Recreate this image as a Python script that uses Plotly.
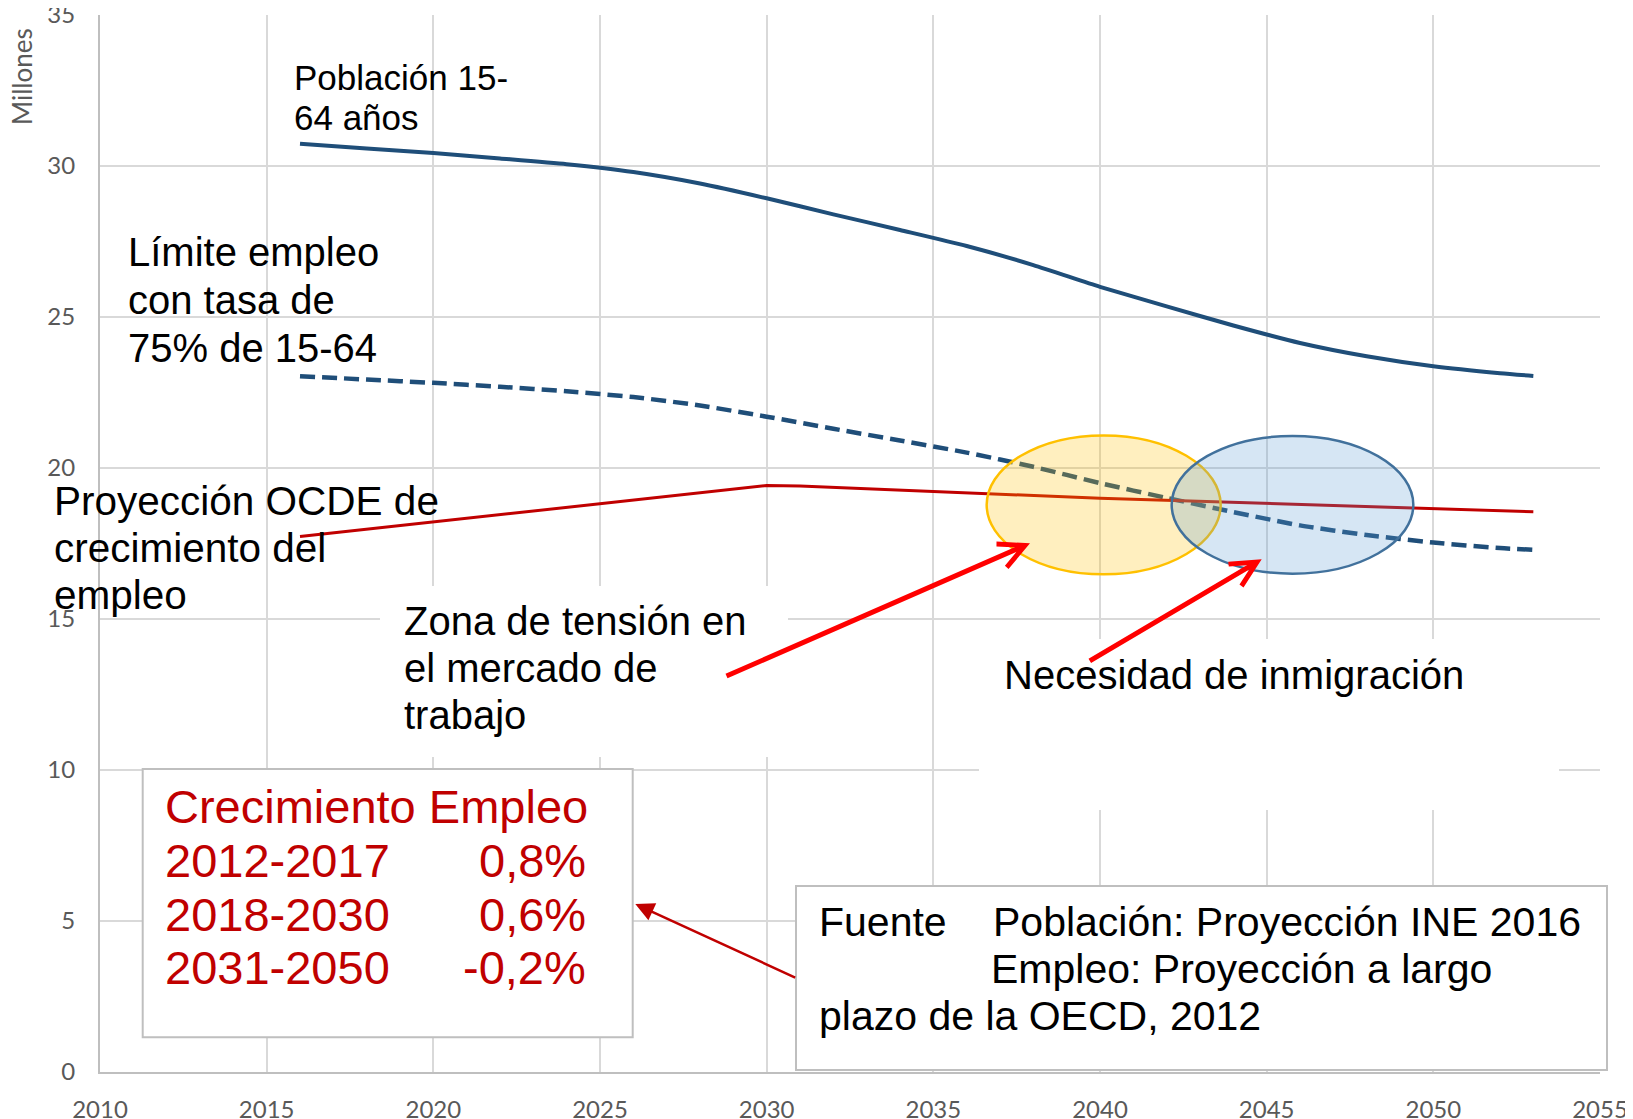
import plotly.graph_objects as go

# ---------------- data ----------------
years_pop = [2016, 2018, 2020, 2022, 2024, 2026, 2028, 2030, 2032, 2034,
             2036, 2038, 2040, 2042, 2044, 2046, 2048, 2050, 2052, 2053]
poblacion_15_64 = [30.74, 30.58, 30.43, 30.25, 30.06, 29.80, 29.42, 28.93, 28.40, 27.88,
                   27.35, 26.72, 26.00, 25.35, 24.72, 24.14, 23.70, 23.37, 23.14, 23.05]
limite_empleo_75 = [23.04, 22.93, 22.82, 22.69, 22.54, 22.35, 22.07, 21.70, 21.30, 20.91,
                    20.51, 20.04, 19.50, 19.01, 18.54, 18.10, 17.78, 17.53, 17.35, 17.29]

years_ocde = [2016, 2030, 2031, 2040, 2053]
empleo_ocde = [17.73, 19.42, 19.40, 19.00, 18.55]

x_ticks = [2010, 2015, 2020, 2025, 2030, 2035, 2040, 2045, 2050, 2055]
y_ticks = [0, 5, 10, 15, 20, 25, 30, 35]

growth_title = "Crecimiento Empleo"
growth_periods = ["2012-2017", "2018-2030", "2031-2050"]
growth_rates = ["0,8%", "0,6%", "-0,2%"]

# zones (ellipses) in data units
zona_tension = dict(x0=2036.60, x1=2043.62, y0=16.48, y1=21.08)
zona_inmigracion = dict(x0=2042.15, x1=2049.40, y0=16.50, y1=21.06)

# ---------------- layout geometry ----------------
# the page body has an 8px margin, so the figure is 8px smaller and shifted
W, H = 1625, 1111
L, R, T, B = 92, 33, 7, 47
PW, PH = W - L - R, H - T - B   # 1500 x 1057


def px(x):  # page x pixel -> paper fraction
    return (x - 100) / PW


def py(y):  # page y pixel -> paper fraction
    return (1072 - y) / PH


BLUE = "#1F4E79"
DRED = "#C00000"
RED = "#FF0000"
TXT = "Liberation Sans, Arial, sans-serif"
TICKF = "Lato, Open Sans, sans-serif"

fig = go.Figure()
fig.add_trace(go.Scatter(x=years_pop, y=poblacion_15_64, mode="lines",
                         line=dict(color=BLUE, width=4, shape="spline", smoothing=0.6),
                         hoverinfo="skip"))
fig.add_trace(go.Scatter(x=years_pop, y=limite_empleo_75, mode="lines",
                         line=dict(color=BLUE, width=4.5, dash="15px,7px", shape="spline", smoothing=0.6),
                         hoverinfo="skip"))
fig.add_trace(go.Scatter(x=years_ocde, y=empleo_ocde, mode="lines",
                         line=dict(color=DRED, width=3),
                         hoverinfo="skip"))

shapes = []
# white label boxes covering the grid
for (x0, y0, x1, y1) in [(380, 586, 788, 757), (979, 639, 1559, 810)]:
    shapes.append(dict(type="rect", xref="paper", yref="paper",
                       x0=px(x0), x1=px(x1), y0=py(y1), y1=py(y0),
                       fillcolor="white", line=dict(width=0), layer="above"))
# boxes with border
shapes.append(dict(type="rect", xref="paper", yref="paper",
                   x0=px(142.7), x1=px(632.7), y0=py(1037.3), y1=py(769),
                   fillcolor="white", line=dict(color="#BFBFBF", width=2), layer="above"))
shapes.append(dict(type="rect", xref="paper", yref="paper",
                   x0=px(796), x1=px(1607), y0=py(1070), y1=py(886),
                   fillcolor="white", line=dict(color="#BFBFBF", width=2), layer="above"))
# ellipses
shapes.append(dict(type="circle", xref="x", yref="y", **zona_tension,
                   fillcolor="rgba(255,192,0,0.25)", line=dict(color="#FFC000", width=2.5),
                   layer="above"))
shapes.append(dict(type="circle", xref="x", yref="y", **zona_inmigracion,
                   fillcolor="rgba(91,155,213,0.25)", line=dict(color="#41719C", width=2.5),
                   layer="above"))

annotations = []


def txt(text, x, y, size=40, color="black", xanchor="left"):
    annotations.append(dict(text=text, x=px(x), y=py(y), xref="paper", yref="paper",
                            xanchor=xanchor, yanchor="middle", showarrow=False,
                            font=dict(family=TXT, size=size, color=color)))


txt("Población 15-", 292, 77, size=35)
txt("64 años", 292, 117, size=35)
for i, s in enumerate(["Límite empleo", "con tasa de", "75% de 15-64"]):
    txt(s, 126, 252 + 47.8 * i)
for i, s in enumerate(["Proyección OCDE de", "crecimiento del", "empleo"]):
    txt(s, 52, 501 + 47 * i, size=40.5)
for i, s in enumerate(["Zona de tensión en", "el mercado de", "trabajo"]):
    txt(s, 402, 621 + 46.8 * i)
txt("Necesidad de inmigración", 1002, 675)

txt(growth_title, 163, 806.5, size=47, color=DRED)
for i, (p, r) in enumerate(zip(growth_periods, growth_rates)):
    yy = 860.5 + 53.7 * i
    txt(p, 163, yy, size=47, color=DRED)
    txt(r, 588, yy, size=47, color=DRED, xanchor="right")

txt("Fuente", 817, 921.7, size=41)
txt("Población: Proyección INE 2016", 991, 921.7, size=41)
txt("Empleo: Proyección a largo", 989, 968.6, size=41)
txt("plazo de la OECD, 2012", 817, 1015.5, size=41)

# axis title
annotations.append(dict(text="Millones", x=px(22), y=py(77), xref="paper", yref="paper",
                        xanchor="center", yanchor="middle", showarrow=False, textangle=-90,
                        font=dict(family=TICKF, size=26, color="#595959")))


def arrow(x_tip, y_tip, x_start, y_start, color, width, head, size):
    annotations.append(dict(text="", x=px(x_tip), y=py(y_tip), xref="paper", yref="paper",
                            ax=x_start - x_tip, ay=y_start - y_tip, axref="pixel", ayref="pixel",
                            showarrow=True, arrowhead=head, arrowsize=size,
                            arrowwidth=width, arrowcolor=color, standoff=0, startstandoff=0))


arrow(1030, 543.3, 725, 676.7, RED, 5, 5, 1)
arrow(1261.7, 559.3, 1088.3, 661.7, RED, 5, 5, 1)
arrow(635.3, 904, 796.7, 978.3, DRED, 2.5, 2, 1.5)

fig.update_layout(
    width=W, height=H,
    margin=dict(l=L, r=R, t=T, b=B, pad=0, autoexpand=False),
    paper_bgcolor="white", plot_bgcolor="white",
    showlegend=False,
    shapes=shapes, annotations=annotations,
)
fig.update_xaxes(range=[2010, 2055], tickmode="array", tickvals=x_ticks,
                 ticktext=[str(v) for v in x_ticks], automargin=False,
                 ticklabeloverflow="allow",
                 showgrid=True, gridcolor="#D9D9D9", gridwidth=2,
                 showline=True, linecolor="#BFBFBF", linewidth=2, zeroline=False,
                 ticks="outside", ticklen=15, tickcolor="rgba(0,0,0,0)",
                 tickfont=dict(family=TICKF, size=24, color="#595959"))
fig.update_yaxes(range=[0, 35], tickmode="array", tickvals=y_ticks,
                 ticktext=[str(v) for v in y_ticks], automargin=False,
                 ticklabeloverflow="allow",
                 showgrid=True, gridcolor="#D9D9D9", gridwidth=2,
                 showline=True, linecolor="#BFBFBF", linewidth=2, zeroline=False,
                 ticks="outside", ticklen=18, tickcolor="rgba(0,0,0,0)",
                 tickfont=dict(family=TICKF, size=24, color="#595959"))

fig.write_html("out.html")
